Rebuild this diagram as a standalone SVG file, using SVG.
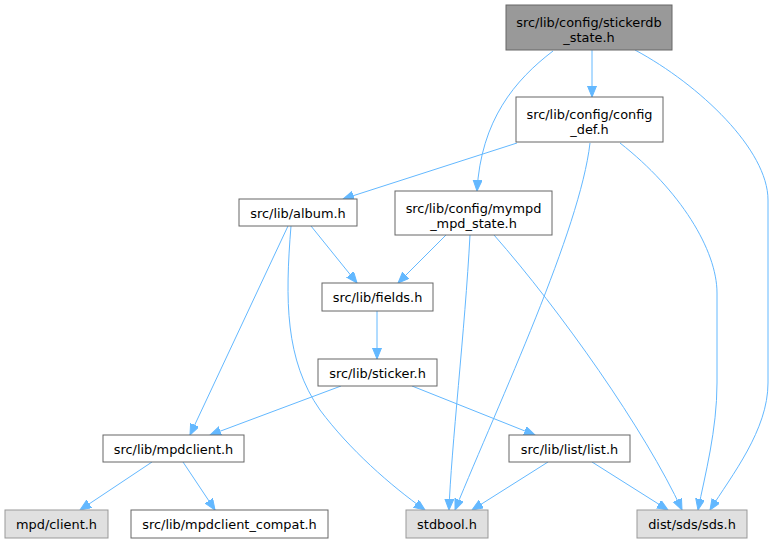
<svg xmlns="http://www.w3.org/2000/svg" width="774" height="543" viewBox="0 0 774 543">
<style>
.n rect{fill:#ffffff;stroke:#666666;stroke-width:1}
.n.root rect{fill:#999999;stroke:#666666}
.n.ext rect{fill:#e0e0e0;stroke:#999999}
.n text{font-family:"DejaVu Sans",sans-serif;font-size:12.9px;fill:#000000;text-anchor:middle}
.e path{fill:none;stroke:#63b8ff;stroke-width:1;marker-end:url(#ah)}
</style>
<defs>
<marker id="ah" markerUnits="userSpaceOnUse" markerWidth="12" markerHeight="11" refX="11" refY="4.5" orient="auto">
<path d="M0,0 L11,4.5 L0,9 Z" fill="#63b8ff" stroke="#63b8ff" stroke-width="1"/>
</marker>
</defs>
<rect width="774" height="543" fill="#ffffff"/>
<g id="edges" class="e">
<path d="M592,50 L592,97"/>
<path d="M553,51 C515,80 481,120 477,191"/>
<path d="M635,50 C700,85 768,150 768,200 L768,383 C768,430 732,475 710,510"/>
<path d="M517,143 L343,199"/>
<path d="M590,143 C580,230 500,400 455,510"/>
<path d="M620,143 C680,190 717,250 717,293 L717,383 C717,430 705,475 698,510"/>
<path d="M446,235 L398,283"/>
<path d="M470,235 C465,330 451,450 449,510"/>
<path d="M494,235 C560,310 645,430 682,510"/>
<path d="M311,226 L357,283"/>
<path d="M288,226 L190,435"/>
<path d="M291,226 C285,300 285,360 320,410 C350,450 390,485 425,510"/>
<path d="M377,311 L377,359"/>
<path d="M341,386 L210,435"/>
<path d="M412,386 L535,435"/>
<path d="M548,462 L472,510"/>
<path d="M592,462 L668,510"/>
<path d="M152,462 L80,510"/>
<path d="M183,462 L215,510"/>
</g>
<g id="node_root" class="n root"><rect x="506" y="5" width="166" height="45"/><text x="589" y="27">src/lib/config/stickerdb</text><text x="589" y="42">_state.h</text></g>
<g id="node_config_def" class="n"><rect x="516" y="97" width="147" height="45"/><text x="589.5" y="119">src/lib/config/config</text><text x="589.5" y="134">_def.h</text></g>
<g id="node_mympd" class="n"><rect x="395" y="191" width="157" height="44"/><text x="473.5" y="213">src/lib/config/mympd</text><text x="473.5" y="228">_mpd_state.h</text></g>
<g id="node_album" class="n"><rect x="239" y="199" width="118" height="27"/><text x="298" y="218">src/lib/album.h</text></g>
<g id="node_fields" class="n"><rect x="322" y="283" width="111" height="28"/><text x="377.5" y="302">src/lib/fields.h</text></g>
<g id="node_sticker" class="n"><rect x="318" y="359" width="119" height="27"/><text x="377.5" y="378">src/lib/sticker.h</text></g>
<g id="node_mpdclient" class="n"><rect x="103" y="435" width="141" height="27"/><text x="173.5" y="454">src/lib/mpdclient.h</text></g>
<g id="node_list" class="n"><rect x="509" y="435" width="121" height="27"/><text x="569.5" y="454">src/lib/list/list.h</text></g>
<g id="node_mpd_client" class="n ext"><rect x="5" y="510" width="103" height="28"/><text x="56.5" y="529">mpd/client.h</text></g>
<g id="node_compat" class="n"><rect x="131" y="510" width="197" height="28"/><text x="229.5" y="529">src/lib/mpdclient_compat.h</text></g>
<g id="node_stdbool" class="n ext"><rect x="406" y="510" width="82" height="28"/><text x="447" y="529">stdbool.h</text></g>
<g id="node_sds" class="n ext"><rect x="637" y="510" width="110" height="28"/><text x="692" y="529">dist/sds/sds.h</text></g>
</svg>
